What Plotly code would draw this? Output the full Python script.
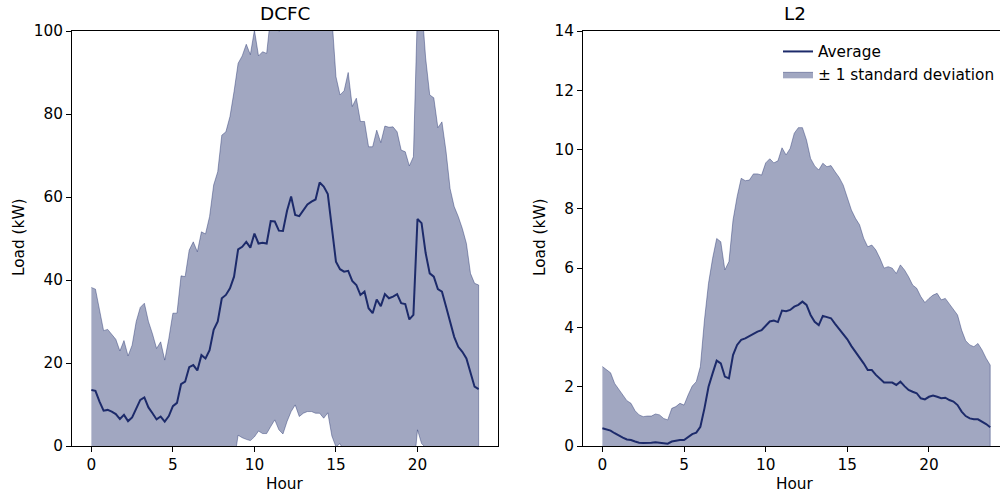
import plotly.graph_objects as go

hours = [0.0, 0.25, 0.5, 0.75, 1.0, 1.25, 1.5, 1.75, 2.0, 2.25, 2.5, 2.75,
         3.0, 3.25, 3.5, 3.75, 4.0, 4.25, 4.5, 4.75, 5.0, 5.25, 5.5, 5.75,
         6.0, 6.25, 6.5, 6.75, 7.0, 7.25, 7.5, 7.75, 8.0, 8.25, 8.5, 8.75,
         9.0, 9.25, 9.5, 9.75, 10.0, 10.25, 10.5, 10.75, 11.0, 11.25, 11.5, 11.75,
         12.0, 12.25, 12.5, 12.75, 13.0, 13.25, 13.5, 13.75, 14.0, 14.25, 14.5, 14.75,
         15.0, 15.25, 15.5, 15.75, 16.0, 16.25, 16.5, 16.75, 17.0, 17.25, 17.5, 17.75,
         18.0, 18.25, 18.5, 18.75, 19.0, 19.25, 19.5, 19.75, 20.0, 20.25, 20.5, 20.75,
         21.0, 21.25, 21.5, 21.75, 22.0, 22.25, 22.5, 22.75, 23.0, 23.25, 23.5, 23.75]

dcfc_mean = [13.5, 13.3, 10.7, 8.5, 8.7, 8.3, 7.7, 6.5, 7.5, 6.0, 6.9, 9.1,
             11.1, 11.7, 9.3, 7.9, 6.4, 7.1, 5.9, 7.2,
             9.6, 10.4, 14.9, 15.5, 19.0, 19.5, 18.2, 21.9,
             21.1, 23.1, 28.0, 30.0, 35.6, 36.4, 38.0, 40.8,
             47.4, 48.0, 49.2, 47.8, 51.2, 48.8, 49.0, 48.8,
             54.2, 54.1, 51.9, 51.8, 56.7, 60.1, 55.7, 55.4,
             56.9, 58.2, 58.9, 59.4, 63.5, 62.5, 60.7, 52.9,
             44.4, 42.6, 42.0, 42.2, 39.8, 38.8, 36.4, 37.2,
             33.2, 32.0, 35.3, 33.7, 36.6, 35.6, 36.0, 36.6,
             34.4, 34.2, 30.5, 31.6, 54.7, 53.7, 46.5, 41.6,
             40.8, 37.8, 37.2, 33.6, 30.0, 26.3, 23.9, 22.7,
             21.1, 17.5, 14.3, 13.7]

dcfc_std = [24.7, 24.5, 22.1, 19.3, 19.4, 18.7, 18.0, 16.4, 17.9, 15.7, 17.4, 20.9,
            22.3, 22.7, 20.7, 19.1, 17.1, 18.0, 14.8, 18.7,
            22.4, 21.6, 26.1, 25.3, 28.2, 29.7, 28.6, 29.7,
            30.0, 32.2, 34.9, 36.1, 39.3, 39.3, 41.4, 44.6,
            44.8, 46.0, 47.6, 46.5, 49.0, 45.2, 46.0, 45.8,
            49.5, 47.8, 48.0, 48.9, 50.8, 51.8, 45.8, 48.3,
            49.0, 49.9, 50.6, 51.5, 55.6, 55.8, 52.7, 50.5,
            44.6, 42.0, 43.6, 47.8, 42.0, 45.0, 41.8, 41.0,
            38.9, 40.1, 40.8, 39.4, 40.5, 41.2, 40.9, 39.1,
            36.9, 36.7, 37.0, 38.1, 50.8, 53.1, 47.0, 43.0,
            43.1, 38.9, 40.9, 37.4, 32.0, 31.4, 31.4, 29.7,
            27.7, 24.1, 24.9, 25.1]

l2_mean = [0.60, 0.56, 0.52, 0.43, 0.34, 0.28, 0.22, 0.20, 0.15, 0.11, 0.10, 0.10,
           0.11, 0.13, 0.11, 0.09, 0.08, 0.15, 0.18, 0.20,
           0.20, 0.31, 0.40, 0.45, 0.65, 1.27, 2.00, 2.45,
           2.88, 2.79, 2.34, 2.28, 3.07, 3.41, 3.58, 3.63,
           3.71, 3.80, 3.86, 3.91, 4.04, 4.20, 4.23, 4.18,
           4.57, 4.55, 4.59, 4.70, 4.76, 4.87, 4.76, 4.42,
           4.19, 4.08, 4.39, 4.36, 4.31, 4.12, 3.94, 3.80,
           3.60, 3.37, 3.18, 3.01, 2.79, 2.56, 2.56, 2.40,
           2.28, 2.14, 2.14, 2.14, 2.06, 2.17, 2.02, 1.89,
           1.83, 1.78, 1.61, 1.57, 1.66, 1.70, 1.66, 1.61,
           1.63, 1.55, 1.50, 1.38, 1.16, 1.01, 0.93, 0.90,
           0.90, 0.82, 0.74, 0.63]

l2_std = [2.08, 2.03, 1.95, 1.68, 1.57, 1.44, 1.31, 1.24, 1.04, 0.94, 0.89, 0.91,
          0.90, 0.95, 0.94, 0.84, 0.80, 1.12, 1.15, 1.24,
          1.18, 1.41, 1.62, 1.72, 2.03, 2.98, 3.49, 3.88,
          4.12, 4.10, 3.60, 3.94, 4.55, 5.00, 5.45, 5.32,
          5.26, 5.38, 5.32, 5.23, 5.51, 5.49, 5.32, 5.44,
          5.49, 5.27, 5.45, 5.85, 5.98, 5.87, 5.56, 5.28,
          5.26, 5.23, 5.15, 5.06, 5.15, 5.13, 5.12, 5.00,
          4.81, 4.59, 4.50, 4.45, 4.22, 4.16, 4.22, 4.21,
          4.05, 3.86, 3.91, 3.86, 3.76, 3.94, 3.92, 3.82,
          3.60, 3.54, 3.43, 3.27, 3.32, 3.39, 3.49, 3.32,
          3.35, 3.24, 3.09, 3.04, 2.75, 2.54, 2.48, 2.45,
          2.56, 2.42, 2.22, 2.10]

titles = ["DCFC", "L2"]
x_ticks = [0, 5, 10, 15, 20]
dcfc_y_ticks = [0, 20, 40, 60, 80, 100]
l2_y_ticks = [0, 2, 4, 6, 8, 10, 12, 14]

LINE = "#1c2a6a"
FILL = "rgba(31,45,107,0.42)"
FONT = "DejaVu Sans"
FS = 15.3
TFS = 18.4
W, H = 1000, 492


def band(mean, std):
    upper = [m + s for m, s in zip(mean, std)]
    lower = [m - s for m, s in zip(mean, std)]
    return hours + hours[::-1], upper + lower[::-1]


fig = go.Figure()
for i, (mean, std) in enumerate([(dcfc_mean, dcfc_std), (l2_mean, l2_std)]):
    xa = "x" if i == 0 else "x2"
    ya = "y" if i == 0 else "y2"
    bx, by = band(mean, std)
    fig.add_trace(go.Scatter(x=bx, y=by, xaxis=xa, yaxis=ya, mode="lines",
                             fill="toself", fillcolor=FILL,
                             line=dict(color=FILL, width=1),
                             name="\u00b1 1 standard deviation",
                             showlegend=(i == 1), legendrank=2,
                             hoverinfo="skip"))
    fig.add_trace(go.Scatter(x=hours, y=mean, xaxis=xa, yaxis=ya, mode="lines",
                             line=dict(color=LINE, width=2),
                             name="Average", showlegend=(i == 1), legendrank=1))

axis_common = dict(showline=True, linecolor="black", linewidth=1, ticks="outside",
                   ticklen=5, tickwidth=1, tickcolor="black", showgrid=False,
                   zeroline=False, tickfont=dict(family=FONT, size=FS, color="black"),
                   automargin=False)

ydom = [(H - 446) / H, (H - 31) / H]
fig.update_layout(
    width=W, height=H, margin=dict(l=0, r=0, t=0, b=0),
    paper_bgcolor="white", plot_bgcolor="white",
    font=dict(family=FONT, size=FS, color="black"),
    xaxis=dict(domain=[72 / W, 498 / W], range=[-1.1875, 24.9375], tickvals=x_ticks,
               mirror=True, anchor="y", **axis_common),
    yaxis=dict(domain=ydom, range=[0, 100], tickvals=dcfc_y_ticks, mirror=True,
               anchor="x", **axis_common),
    xaxis2=dict(domain=[583 / W, 1.0], range=[-1.1875, 24.35], tickvals=x_ticks,
                mirror=True, anchor="y2", **axis_common),
    yaxis2=dict(domain=ydom, range=[0, 14], tickvals=l2_y_ticks, mirror=False,
                anchor="x2", **axis_common),
    showlegend=True,
    legend=dict(x=1.0, y=1 - 35 / H, xanchor="right", yanchor="top",
                bgcolor="rgba(0,0,0,0)", font=dict(family=FONT, size=FS, color="black"),
                tracegroupgap=0),
)

ann = []
for t, cx in zip(titles, [285, 795]):
    ann.append(dict(text=t, x=cx / W, y=1 - 14 / H, xref="paper", yref="paper",
                    showarrow=False, xanchor="center", yanchor="middle",
                    font=dict(family=FONT, size=TFS, color="black")))
    ann.append(dict(text="Hour", x=cx / W, y=1 - 484 / H, xref="paper", yref="paper",
                    showarrow=False, xanchor="center", yanchor="middle",
                    font=dict(family=FONT, size=FS, color="black")))
for lx in [19, 540]:
    ann.append(dict(text="Load (kW)", x=lx / W, y=1 - 238 / H, xref="paper", yref="paper",
                    showarrow=False, xanchor="center", yanchor="middle", textangle=-90,
                    font=dict(family=FONT, size=FS, color="black")))
fig.update_layout(annotations=ann)

fig.write_html("out.html")
